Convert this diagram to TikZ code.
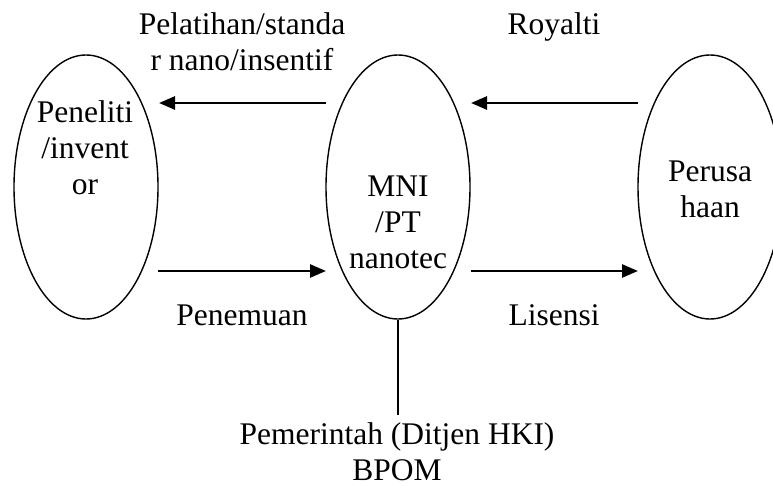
\documentclass[tikz,border=0pt]{standalone}
\usepackage{fontspec}
\setmainfont{Liberation Serif}
\usetikzlibrary{arrows.meta,shapes.geometric}
\tikzset{
  actor/.style={draw, line width=1.4pt, ellipse, minimum width=144pt, minimum height=264pt, inner sep=0pt},
  flow/.style={line width=2.6pt, -{Triangle[length=16pt,width=13pt]}},
  lbl/.style={font=\fontsize{31.5}{36}\selectfont, align=center, inner sep=0pt, anchor=base},
  tie/.style={line width=1.3pt}
}
\begin{document}
\begin{tikzpicture}[x=1pt,y=-1pt]
\useasboundingbox (0,0) rectangle (773,486);
\node[actor] (pen) at (86,187) {};
\node[actor] (mni) at (398,187) {};
\node[actor] (per) at (710,187) {};
\node[lbl] (pentext) at (85,195) {Peneliti\\/invent\\or};
\node[lbl] (mnitext) at (398,269) {MNI\\/PT\\nanotec};
\node[lbl] (pertext) at (710,218) {Perusa\\haan};
\node[lbl] (latih) at (242,71) {Pelatihan/standa\\r nano/insentif};
\node[lbl] (roy) at (554,35) {Royalti};
\node[lbl] (temu) at (242,325) {Penemuan};
\node[lbl] (lis) at (554,325) {Lisensi};
\node[lbl] (gov) at (397,480) {Pemerintah (Ditjen HKI)\\BPOM};
\coordinate (a1s) at (326,103); \coordinate (a1e) at (159,103);
\coordinate (a2s) at (638,103); \coordinate (a2e) at (471,103);
\coordinate (a3s) at (158,271); \coordinate (a3e) at (326,271);
\coordinate (a4s) at (471,271); \coordinate (a4e) at (638,271);
\coordinate (gtop) at (398,415);
\draw[flow] (a1s) -- (a1e);
\draw[flow] (a2s) -- (a2e);
\draw[flow] (a3s) -- (a3e);
\draw[flow] (a4s) -- (a4e);
\draw[tie] (mni.south) -- (gtop);
\end{tikzpicture}
\end{document}
